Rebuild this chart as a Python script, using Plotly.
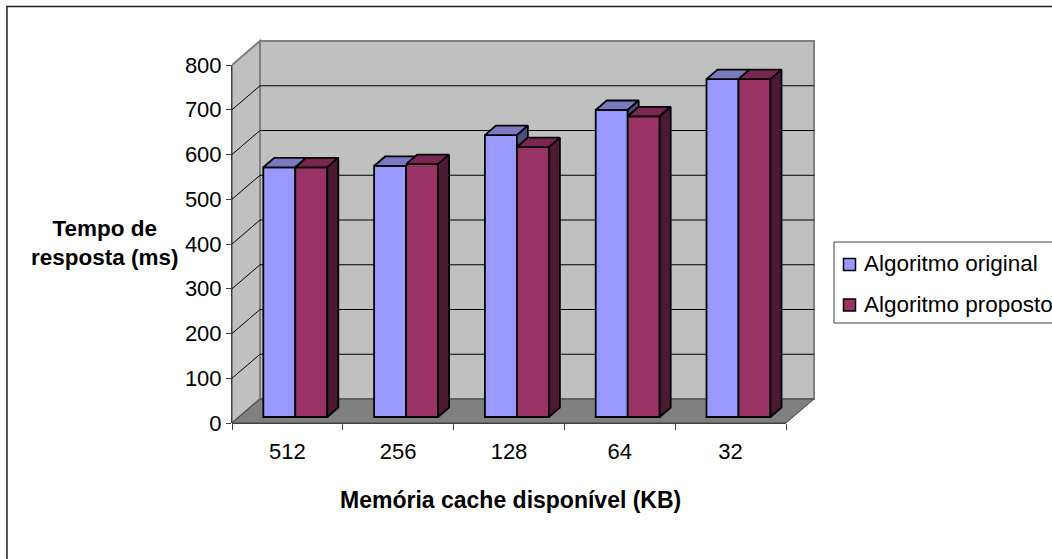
import plotly.graph_objects as go

categories = ["512", "256", "128", "64", "32"]
series_names = ["Algoritmo original", "Algoritmo proposto"]
original = [558, 561, 630, 686, 755]
proposto = [558, 565, 603, 672, 755]
y_ticks = [0, 100, 200, 300, 400, 500, 600, 700, 800]

W, H = 1052, 559
PAD = 2
LEFT, RIGHT, TOP, BOTTOM = 232, 814 + PAD, 41 - PAD, 423
PX_CAT = 110.8
PX_VAL = 0.4475
WALL_DX = 28 / PX_CAT
WALL_DY = 24 / PX_VAL
BASE = 6 / PX_VAL
BAR_OFF = 31.3 / PX_CAT
BAR_W = 32.0 / PX_CAT
D_X = 11 / PX_CAT
D_Y = 9.5 / PX_VAL
N = len(categories)
Y_MAX = y_ticks[-1]

C_BLUE, C_PURPLE = "#9999FF", "#993366"
C_BLUE_TOP, C_PURPLE_TOP = "#7A7ABF", "#792650"
C_BLUE_SIDE, C_PURPLE_SIDE = "#4D4D80", "#4C1933"
C_WALL, C_FLOOR, C_EDGE = "#C0C0C0", "#808080", "#808080"
FONT = "Liberation Sans, Arial, sans-serif"
FS = 22
FS_TITLE = 22.5
FS_LEGEND = 22.5
LW = 1.8


def px(x):
    return (x - LEFT) / (RIGHT - LEFT)


def py(y):
    return (BOTTOM - y) / (BOTTOM - TOP)


def poly_trace(xs, ys, color):
    return go.Scatter(x=xs, y=ys, mode="lines", fill="toself", fillcolor=color,
                      line=dict(color="black", width=LW), showlegend=False, hoverinfo="skip")


top_b, top_p, side_b, side_p = ([], []), ([], []), ([], []), ([], [])
for i in range(N):
    x0 = i + BAR_OFF
    xm = x0 + BAR_W
    x1 = xm + BAR_W
    hb = BASE + original[i]
    hp = BASE + proposto[i]
    top_b[0].extend([x0, xm, xm + D_X, x0 + D_X, x0, None])
    top_b[1].extend([hb, hb, hb + D_Y, hb + D_Y, hb, None])
    top_p[0].extend([xm, x1, x1 + D_X, xm + D_X, xm, None])
    top_p[1].extend([hp, hp, hp + D_Y, hp + D_Y, hp, None])
    side_p[0].extend([x1, x1 + D_X, x1 + D_X, x1, x1, None])
    side_p[1].extend([BASE, BASE + D_Y, hp + D_Y, hp, BASE, None])
    if hb > hp:
        side_b[0].extend([xm, xm + D_X, xm + D_X, xm, xm, None])
        side_b[1].extend([hp, hp + D_Y, hb + D_Y, hb, hp, None])

fig = go.Figure()
fig.add_trace(poly_trace(top_b[0], top_b[1], C_BLUE_TOP))
fig.add_trace(poly_trace(side_b[0], side_b[1], C_BLUE_SIDE))
fig.add_trace(poly_trace(top_p[0], top_p[1], C_PURPLE_TOP))
fig.add_trace(poly_trace(side_p[0], side_p[1], C_PURPLE_SIDE))
fig.add_trace(go.Bar(x=list(range(N)), y=original, base=BASE, offset=BAR_OFF, width=BAR_W,
                     name=series_names[0], marker=dict(color=C_BLUE, line=dict(color="black", width=LW)),
                     showlegend=False))
fig.add_trace(go.Bar(x=list(range(N)), y=proposto, base=BASE, offset=BAR_OFF + BAR_W, width=BAR_W,
                     name=series_names[1], marker=dict(color=C_PURPLE, line=dict(color="black", width=LW)),
                     showlegend=False))

shapes = []


def path(points):
    return "M " + " L ".join(f"{a},{b}" for a, b in points) + " Z"


# back wall, side wall, floor
shapes.append(dict(type="path", xref="x", yref="y", layer="below", fillcolor=C_WALL,
                   line=dict(color=C_EDGE, width=2),
                   path=path([(WALL_DX, WALL_DY), (N + WALL_DX, WALL_DY), (N + WALL_DX, Y_MAX + WALL_DY), (WALL_DX, Y_MAX + WALL_DY)])))
shapes.append(dict(type="path", xref="x", yref="y", layer="below", fillcolor=C_WALL,
                   line=dict(color=C_EDGE, width=2),
                   path=path([(0, 0), (WALL_DX, WALL_DY), (WALL_DX, Y_MAX + WALL_DY), (0, Y_MAX)])))
shapes.append(dict(type="path", xref="x", yref="y", layer="below", fillcolor=C_FLOOR,
                   line=dict(color="#404040", width=1),
                   path=path([(0, 0), (N, 0), (N + WALL_DX, WALL_DY), (WALL_DX, WALL_DY)])))
# gridlines on the walls
for v in y_ticks[1:-1]:
    shapes.append(dict(type="line", xref="x", yref="y", layer="below", x0=0, y0=v, x1=WALL_DX, y1=v + WALL_DY,
                       line=dict(color="black", width=1)))
    shapes.append(dict(type="line", xref="x", yref="y", layer="below", x0=WALL_DX, y0=v + WALL_DY, x1=N + WALL_DX, y1=v + WALL_DY,
                       line=dict(color="black", width=1)))
# axis lines (one paper coordinate each so the plot area does not clip them)
shapes.append(dict(type="line", xref="paper", yref="y", x0=0, y0=0, x1=0, y1=Y_MAX, layer="below",
                   line=dict(color="#404040", width=2)))
shapes.append(dict(type="line", xref="x", yref="paper", x0=0, y0=0, x1=N, y1=0, layer="below",
                   line=dict(color="#404040", width=2)))
# chart frame
shapes.append(dict(type="rect", xref="paper", yref="paper", layer="below",
                   x0=px(7), x1=px(1060), y0=py(6.5), y1=py(570), line=dict(color="#202020", width=1.5)))
# legend box + swatches
shapes.append(dict(type="rect", xref="paper", yref="paper", x0=px(834), x1=px(1060), y0=py(242), y1=py(323),
                   fillcolor="white", line=dict(color="#404040", width=1)))
swatch_y = [264.5, 305]
text_y = [263, 304]
swatch_c = [C_BLUE, C_PURPLE]
for yc, c in zip(swatch_y, swatch_c):
    shapes.append(dict(type="rect", xref="paper", yref="paper", x0=px(843.5), x1=px(855.5), y0=py(yc - 6), y1=py(yc + 6),
                       fillcolor=c, line=dict(color="black", width=1.5)))

annotations = [
    dict(xref="paper", yref="paper", x=px(104.5), y=py(243), xanchor="center", yanchor="middle",
         text="<b>Tempo de<br>resposta (ms)</b>", showarrow=False,
         font=dict(size=FS_TITLE, family=FONT, color="black"), align="center"),
    dict(xref="paper", yref="paper", x=px(510), y=py(500), xanchor="center", yanchor="middle",
         text="<b>Memória cache disponível (KB)</b>", showarrow=False,
         font=dict(size=FS_TITLE + 0.5, family=FONT, color="black")),
]
for name, yc in zip(series_names, text_y):
    annotations.append(dict(xref="paper", yref="paper", x=px(862), y=py(yc), xanchor="left", yanchor="middle",
                            text=name, showarrow=False, font=dict(size=FS_LEGEND, family=FONT, color="black")))

fig.update_layout(
    width=W, height=H, autosize=False,
    margin=dict(l=LEFT, r=W - RIGHT, t=TOP, b=H - BOTTOM, pad=0),
    paper_bgcolor="white", plot_bgcolor="rgba(0,0,0,0)",
    barmode="overlay", showlegend=False,
    font=dict(family=FONT, size=FS, color="black"),
    shapes=shapes, annotations=annotations,
    xaxis=dict(range=[0, N + WALL_DX + PAD / PX_CAT], showgrid=False, zeroline=False, showline=False,
               tickmode="array", tickvals=[i + 0.5 for i in range(N)], ticktext=categories,
               ticks="", ticklabelstandoff=13,
               minor=dict(tickmode="array", tickvals=list(range(N + 1)), ticks="outside", ticklen=6,
                          tickcolor="#404040", tickwidth=1, showgrid=False)),
    yaxis=dict(range=[0, Y_MAX + WALL_DY + PAD / PX_VAL], showgrid=False, zeroline=False, showline=False,
               tickmode="array", tickvals=y_ticks, ticks="outside", ticklen=5, tickcolor="#404040", tickwidth=1),
)

fig.write_html("out.html", config={"displayModeBar": False},
               post_script="document.body.style.margin='0';document.body.style.overflow='hidden';")
